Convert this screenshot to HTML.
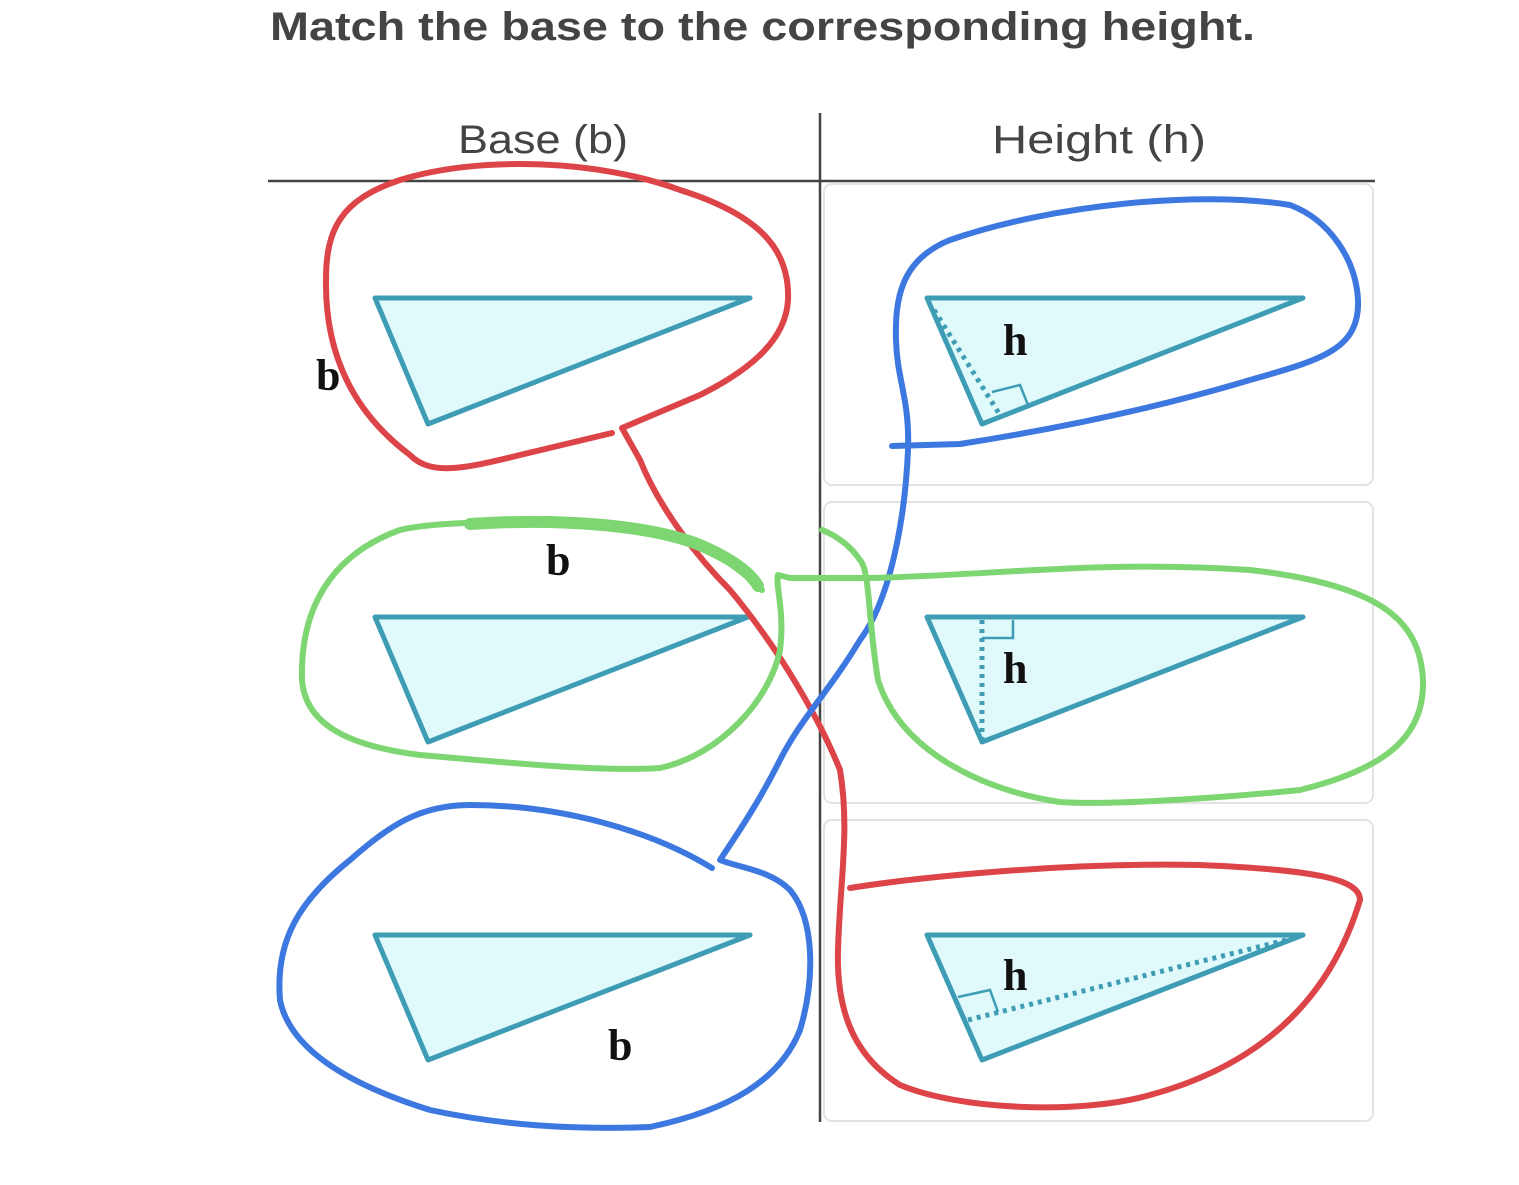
<!DOCTYPE html>
<html><head><meta charset="utf-8"><style>
html,body{margin:0;padding:0;background:#fff;}
body{width:1519px;height:1180px;overflow:hidden;}
</style></head><body>
<svg width="1519" height="1180" viewBox="0 0 1519 1180" xmlns="http://www.w3.org/2000/svg">
<text x="270" y="40" textLength="985" lengthAdjust="spacingAndGlyphs" font-family="Liberation Sans, sans-serif" font-weight="bold" font-size="40" fill="#444">Match the base to the corresponding height.</text>
<text x="458" y="153" textLength="170" lengthAdjust="spacingAndGlyphs" font-family="Liberation Sans, sans-serif" font-size="40" fill="#444">Base (b)</text>
<text x="992" y="153" textLength="214" lengthAdjust="spacingAndGlyphs" font-family="Liberation Sans, sans-serif" font-size="40" fill="#444">Height (h)</text>
<line x1="268" y1="181" x2="1375" y2="181" stroke="#444" stroke-width="2.5"/>
<line x1="820" y1="113" x2="820" y2="1122" stroke="#444" stroke-width="2.5"/>
<g fill="none" stroke="#e3e3e3" stroke-width="2">
<rect x="824" y="184" width="549" height="301" rx="8"/>
<rect x="824" y="502" width="549" height="301" rx="8"/>
<rect x="824" y="820" width="549" height="301" rx="8"/>
</g>
<g fill="#e0f9fb" stroke="#3e9db5" stroke-width="5" stroke-linejoin="round">
<polygon points="375,298 750,298 428,424"/>
<polygon points="375,617 748,617 428,742"/>
<polygon points="375,935 750,935 428,1060"/>
<polygon points="927,298 1303,298 982,424"/>
<polygon points="927,617 1303,617 982,742"/>
<polygon points="927,935 1303,935 982,1060"/>
</g>
<g stroke="#3e9db5" stroke-width="5" fill="none" stroke-dasharray="4,5">
<line x1="934" y1="310" x2="1000" y2="415"/>
<line x1="982" y1="620" x2="982" y2="740"/>
<line x1="968" y1="1020" x2="1298" y2="937"/>
</g>
<g stroke="#3e9db5" stroke-width="2.5" fill="none">
<polyline points="992,392 1020,385 1028,405"/>
<polyline points="982,638 1013,638 1013,620"/>
<polyline points="958,997 990,990 998,1012"/>
</g>
<g font-family="Liberation Serif, serif" font-weight="bold" font-size="44" fill="#111">
<text x="316" y="390">b</text>
<text x="546" y="575">b</text>
<text x="608" y="1060">b</text>
<text x="1003" y="355">h</text>
<text x="1003" y="683">h</text>
<text x="1003" y="990">h</text>
</g>
<g fill="none" stroke-width="6" stroke-linecap="round" stroke-linejoin="round">
<path stroke="#dd4448" d="M612,433 L520,455 C460,470 430,475 410,455 C350,410 325,350 326,280 C326,230 340,200 400,180 C480,155 600,160 680,190 C760,215 790,250 788,300 C786,340 750,370 700,395 L622,428 L640,460 C660,510 700,560 730,590 C780,650 820,720 840,770 C850,830 840,880 838,950 C836,1020 860,1060 900,1085 C960,1110 1080,1115 1150,1095 C1260,1065 1330,1000 1360,900 C1360,880 1320,870 1200,865 C1050,862 900,880 850,888"/>
<path stroke="#3d78e0" d="M892,446 L960,444 C1050,430 1150,410 1250,380 C1320,360 1360,350 1358,300 C1356,260 1330,220 1290,205 C1200,190 1050,205 950,240 C900,260 895,300 896,340 C897,380 910,400 908,450 C905,520 890,600 860,640 C830,690 800,720 780,760 C760,800 740,830 720,860 C740,868 770,870 790,890 C815,920 815,980 800,1030 C780,1080 730,1110 650,1127 C570,1130 500,1125 430,1110 C350,1085 290,1050 280,1000 C275,940 300,900 350,860 C390,825 420,805 470,805 C560,805 650,830 712,868"/>
<path stroke="#7ed672" d="M762,590 C730,560 700,540 640,527 C560,520 440,520 400,530 C330,555 300,610 302,680 C305,720 340,745 420,755 C500,762 600,772 660,768 C720,755 770,700 780,650 C785,610 775,585 778,575 L790,578 L870,578 C1000,575 1100,560 1250,570 C1380,585 1420,620 1423,680 C1425,740 1380,770 1300,790 C1200,800 1100,805 1060,802 C980,790 900,750 878,680 C868,620 870,570 860,560 C850,545 835,535 822,530"/>
<path stroke="#7ed672" stroke-width="12" d="M470,524 C560,518 650,525 700,545 C730,558 750,572 758,586"/>
</g>
</svg>
</body></html>
